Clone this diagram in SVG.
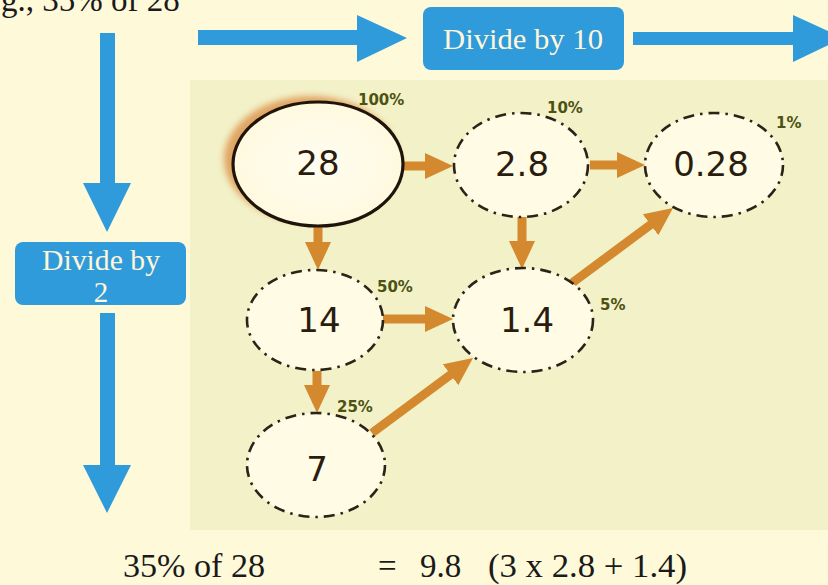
<svg xmlns="http://www.w3.org/2000/svg" width="828" height="585" viewBox="0 0 828 585">
<defs>
<style>
.serif{font-family:"Liberation Serif","Times New Roman",serif;}
.num{font-family:"DejaVu Sans","Verdana",sans-serif;font-size:34px;fill:#2a1d10;text-anchor:middle;}
.pct{font-family:"DejaVu Sans","Verdana",sans-serif;font-size:15px;font-weight:bold;fill:#4b5212;}
.dash{fill:#FFFBE4;stroke:#2a2418;stroke-width:2.6;stroke-dasharray:11 6 2.5 6;}
.oa{stroke:#D4892F;stroke-width:9;fill:none;marker-end:url(#oh);}
.blue{fill:#2F9BDB;}
.btxt{font-family:"Liberation Serif","Times New Roman",serif;font-size:29px;fill:#FFF6D8;text-anchor:middle;}
</style>
<marker id="oh" markerUnits="userSpaceOnUse" markerWidth="30" markerHeight="28" refX="18" refY="13" orient="auto">
<path d="M0,0 L28,13 L0,26 z" fill="#D4892F"/>
</marker>
<filter id="glow" x="-20%" y="-20%" width="140%" height="140%"><feGaussianBlur stdDeviation="3"/></filter>
<radialGradient id="nf" cx="50%" cy="50%" r="60%"><stop offset="0" stop-color="#FFFDF0"/><stop offset="1" stop-color="#FFF8DC"/></radialGradient>
</defs>
<rect x="0" y="0" width="828" height="585" fill="#FEF9D9"/>
<rect x="190" y="80" width="638" height="450" fill="#F3F1C8"/>

<text class="serif" x="1" y="11" font-size="33" fill="#1a1a1a">g., 35% of 28</text>

<g id="blue-arrows">
<polygon class="blue" points="198,30 357,30 357,15 407,38 357,62 357,45 198,45"/>
<polygon class="blue" points="633,32 793,32 793,15 843,38 793,62 793,45 633,45"/>
<polygon class="blue" points="100,33 115,33 115,183 131,183 107,232 83,183 100,183"/>
<polygon class="blue" points="100,313 115,313 115,465 131,465 107,513 83,465 100,465"/>
</g>

<g id="div10">
<rect x="423" y="7" width="201" height="63" rx="8" class="blue"/>
<text class="btxt" x="523" y="49" textLength="160" lengthAdjust="spacingAndGlyphs">Divide by 10</text>
</g>
<g id="div2">
<rect x="15" y="242" width="171" height="63" rx="8" class="blue"/>
<text class="btxt" x="101" y="270" textLength="118" lengthAdjust="spacingAndGlyphs">Divide by</text>
<text class="btxt" x="101" y="302">2</text>
</g>

<g id="connectors">
<line class="oa" x1="403" y1="166" x2="443" y2="166"/>
<line class="oa" x1="590" y1="165" x2="635" y2="165"/>
<line class="oa" x1="318" y1="227" x2="318" y2="260"/>
<line class="oa" x1="522" y1="217" x2="522" y2="259"/>
<line class="oa" x1="383" y1="319" x2="443" y2="319"/>
<line class="oa" x1="317" y1="371" x2="317" y2="403"/>
<line class="oa" x1="372" y1="433" x2="465" y2="364"/>
<line class="oa" x1="572" y1="283" x2="665" y2="214"/>
</g>

<g id="n28">
<ellipse cx="311" cy="159" rx="87" ry="63" fill="#DE9C58" opacity="0.9" filter="url(#glow)"/>
<ellipse cx="318" cy="164" rx="85" ry="62" fill="url(#nf)" stroke="#1e140a" stroke-width="3.2"/>
<text class="num" x="318" y="175">28</text>
<text class="pct" x="358" y="105">100%</text>
</g>
<g id="n2_8">
<ellipse class="dash" cx="521" cy="165" rx="67" ry="52"/>
<text class="num" x="522" y="176">2.8</text>
<text class="pct" x="547" y="113">10%</text>
</g>
<g id="n0_28">
<ellipse class="dash" cx="714" cy="165" rx="69" ry="52"/>
<text class="num" x="711" y="176">0.28</text>
<text class="pct" x="776" y="128">1%</text>
</g>
<g id="n14">
<ellipse class="dash" cx="315" cy="320" rx="68" ry="50"/>
<text class="num" x="319" y="332">14</text>
<text class="pct" x="377" y="292">50%</text>
</g>
<g id="n1_4">
<ellipse class="dash" cx="523" cy="320" rx="70" ry="52"/>
<text class="num" x="527" y="332">1.4</text>
<text class="pct" x="600" y="310">5%</text>
</g>
<g id="n7">
<ellipse class="dash" cx="316" cy="465" rx="69" ry="52"/>
<text class="num" x="317" y="481">7</text>
<text class="pct" x="337" y="412">25%</text>
</g>

<g id="result" class="serif" font-size="33" fill="#1a1a1a">
<text x="123" y="577" textLength="142" lengthAdjust="spacingAndGlyphs">35% of 28</text>
<text x="378" y="577">=</text>
<text x="420" y="577">9.8</text>
<text x="488" y="577" textLength="199" lengthAdjust="spacingAndGlyphs">(3 x 2.8 + 1.4)</text>
</g>
</svg>
